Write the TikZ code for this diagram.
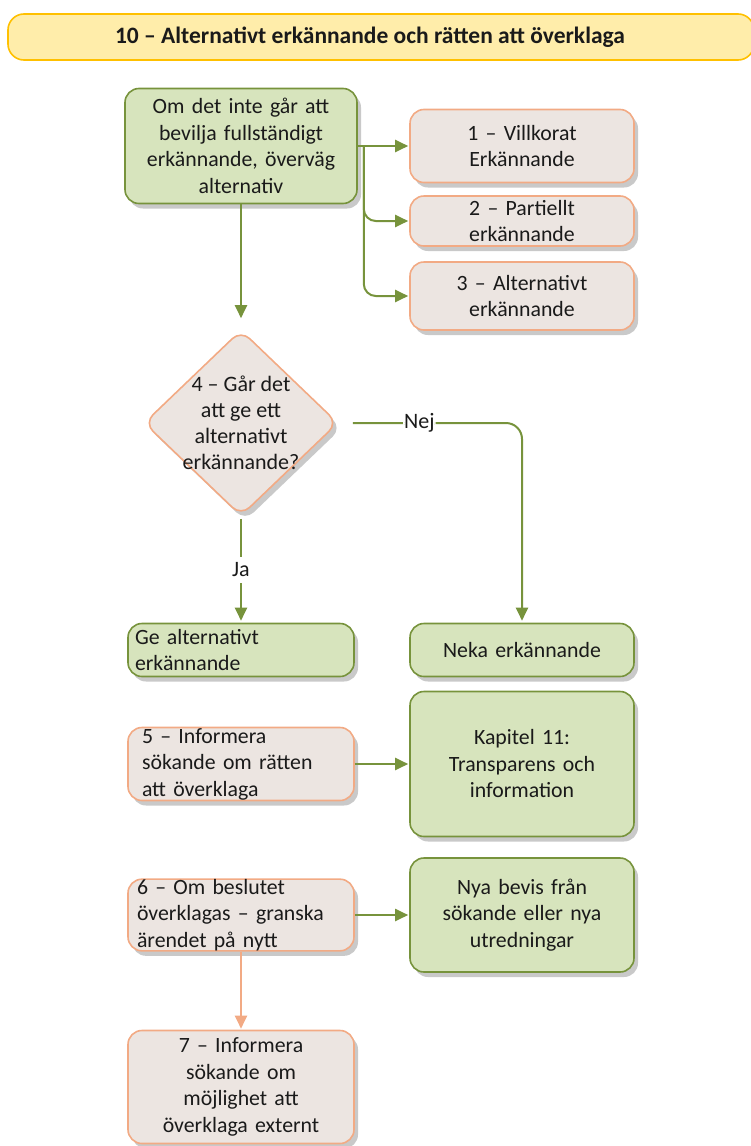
\documentclass[tikz,border=0pt]{standalone}
\usepackage{fontspec}
\setmainfont{Carlito}
\usetikzlibrary{arrows.meta,shapes.geometric,shadows,calc}
\definecolor{grnfill}{HTML}{D7E4BD}
\definecolor{grnline}{HTML}{77933C}
\definecolor{tanfill}{HTML}{ECE5E1}
\definecolor{tanline}{HTML}{F2AA84}
\definecolor{ttlfill}{HTML}{FFEDAA}
\definecolor{ttlline}{HTML}{FFC000}
\definecolor{txt}{HTML}{1A1A1A}

\begin{document}
\begin{tikzpicture}[x=1pt,y=-1pt,
  font=\fontsize{21.8}{26.5}\selectfont, text=txt,
  shadowed/.style={drop shadow={shadow xshift=4pt, shadow yshift=-5pt, fill=black!30, opacity=.7}},
  box/.style={rectangle, rounded corners=14pt, line width=1.6pt, inner sep=0pt, align=center, shadowed},
  gbox/.style={box, draw=grnline, fill=grnfill},
  tbox/.style={box, draw=tanline, fill=tanfill},
  arr/.style={draw=grnline, line width=2pt, -{Triangle[length=13pt,width=12pt]}},
  tarr/.style={arr, draw=tanline},
  lbl/.style={fill=white, inner sep=1pt, font=\fontsize{22}{26}\selectfont},
]
\useasboundingbox (0,0) rectangle (750,1146);

% title banner
\node[rectangle, rounded corners=16pt, draw=ttlline, fill=ttlfill, line width=1.6pt,
      minimum width=746pt, minimum height=46pt] (title) at (381,37) {};
\node[font=\fontsize{23.5}{26}\bfseries] (titletext) at (370,37)
  {10 – Alternativt erkännande och rätten att överklaga};

% upper part
\node[gbox, minimum width=232pt, minimum height=115pt, text width=226pt] (n0) at (241,146)
  {Om det inte går att\\bevilja fullständigt\\erkännande, överväg\\alternativ};
\node[tbox, minimum width=224pt, minimum height=73pt, text width=210pt] (b1) at (522,146)
  {1 – Villkorat\\Erkännande};
\node[tbox, minimum width=224pt, minimum height=50pt, text width=210pt] (b2) at (522,221)
  {2 – Partiellt\\erkännande};
\node[tbox, minimum width=224pt, minimum height=68pt, text width=210pt] (b3) at (522,296)
  {3 – Alternativt\\erkännande};

% decision
\node[diamond, draw=tanline, fill=tanfill, line width=1.6pt, rounded corners=12pt,
      minimum width=194pt, minimum height=186pt, inner sep=0pt, shadowed] (d4) at (241,423) {};
\node[align=center, font=\fontsize{22}{26}\selectfont] (d4text) at (d4.center)
  {4 – Går det\\att ge ett\\alternativt\\erkännande?};

% outcomes
\node[gbox, minimum width=226pt, minimum height=53pt, text width=212pt, align=left] (ge) at (241,650)
  {Ge alternativt\\erkännande};
\node[gbox, minimum width=224pt, minimum height=53pt, text width=210pt] (neka) at (522,650)
  {Neka erkännande};
\node[tbox, minimum width=226pt, minimum height=73pt, text width=198pt, align=left] (n5) at (241,764)
  {5 – Informera\\sökande om rätten\\att överklaga};
\node[gbox, minimum width=224pt, minimum height=145pt, text width=210pt] (kap) at (522,764)
  {Kapitel 11:\\Transparens och\\information};
\node[tbox, minimum width=226pt, minimum height=71pt, text width=208pt, align=left] (n6) at (241,915)
  {6 – Om beslutet\\överklagas – granska\\ärendet på nytt};
\node[gbox, minimum width=224pt, minimum height=114pt, text width=210pt] (nya) at (522,915)
  {Nya bevis från\\sökande eller nya\\utredningar};
\node[tbox, minimum width=226pt, minimum height=113pt, text width=220pt] (n7) at (241,1087)
  {7 – Informera\\sökande om\\möjlighet att\\överklaga externt};

% connectors
\coordinate (split) at ($(n0.east)+(6,0)$);
\draw[arr, shorten >=1pt] (n0.east) -- (b1.west);
\draw[grnline, line width=2pt] (n0.east) -- (split);
\draw[arr, rounded corners=12pt, shorten >=1pt] (split) |- (b2.west);
\draw[arr, rounded corners=12pt, shorten >=1pt] (split) |- (b3.west);
\draw[arr, shorten >=11pt] (n0.south) -- (d4.north);
\draw[arr, rounded corners=16pt, shorten <=14pt, shorten >=2pt] (d4.east) -| (neka.north)
  node[lbl, pos=0.22] (nej) {Nej};
\draw[arr, shorten <=2pt, shorten >=2pt] (d4.south) -- (ge.north)
  node[lbl, pos=0.5, inner ysep=6pt] (ja) {Ja};
\draw[arr, shorten >=1pt] (n5.east) -- (kap.west);
\draw[arr, shorten >=1pt] (n6.east) -- (nya.west);
\draw[tarr, shorten >=1pt] (n6.south) -- (n7.north);
\end{tikzpicture}
\end{document}
